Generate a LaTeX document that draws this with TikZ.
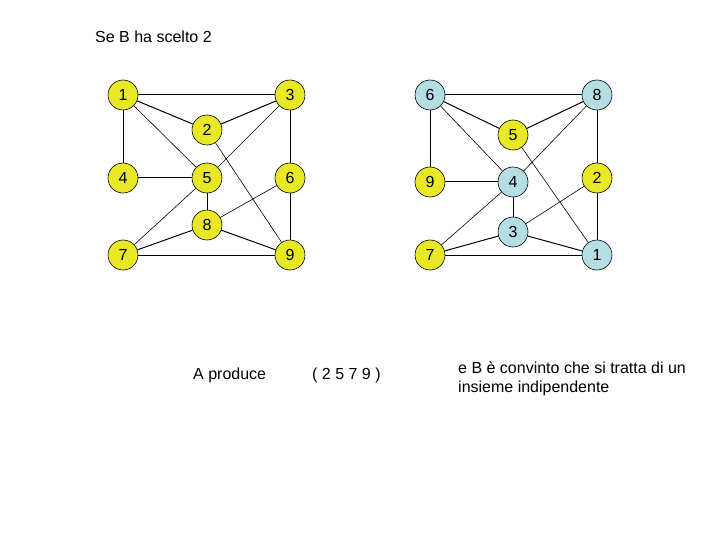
\documentclass[tikz,border=0pt]{standalone}
\usepackage{fontspec}
\setmainfont{Liberation Sans}
\usetikzlibrary{positioning}

\begin{document}
\begin{tikzpicture}[
  x=1pt, y=-1pt,
  font=\fontsize{16}{18.5}\selectfont,
  vy/.style={draw, circle, fill={rgb,255:red,232;green,232;blue,38}, minimum size=30pt,
             inner sep=0pt, line width=0.6pt},
  vb/.style={draw, circle, fill={rgb,255:red,180;green,222;blue,228}, minimum size=30pt,
             inner sep=0pt, line width=0.6pt},
  edge/.style={line width=1pt},
  fine/.style={line width=0.6pt},
  note/.style={anchor=base west, inner sep=0pt},
]
\useasboundingbox (0,0) rectangle (720,540);

\node[note] (title) at (95,43) {Se B ha scelto 2};

% left graph
\node[vy] (l1) at (123,95) {1};
\node[vy] (l3) at (290,95) {3};
\node[vy] (l2) at (207,130) {2};
\node[vy] (l4) at (123,178) {4};
\node[vy] (l5) at (207,178) {5};
\node[vy] (l6) at (290,178) {6};
\node[vy] (l8) at (207,225) {8};
\node[vy] (l7) at (123,255) {7};
\node[vy] (l9) at (290,255) {9};

% right graph
\node[vb] (r6) at (430,95) {6};
\node[vb] (r8) at (597,95) {8};
\node[vy] (r5) at (513,135) {5};
\node[vy] (r9) at (430,182) {9};
\node[vb] (r4) at (513,182) {4};
\node[vy] (r2) at (597,178) {2};
\node[vb] (r3) at (513,232) {3};
\node[vy] (r7) at (430,255) {7};
\node[vb] (r1) at (597,255) {1};

\node[note] (prod) at (193,379) {A produce};
\node[note] (set) at (312,379) {( 2 5 7 9 )};
\node[note, align=left] (conv) at (458,392)
    {e B è convinto che si tratta di un \\ insieme indipendente};

\draw[edge] (l1) -- (l3);
\draw[edge] (l1) -- (l4);
\draw[edge] (l1) -- (l2);
\draw[fine] (l1) -- (l5);
\draw[edge] (l3) -- (l2);
\draw[fine] (l3) -- (l5);
\draw[edge] (l3) -- (l6);
\draw[fine] (l2) -- (l9);
\draw[edge] (l4) -- (l5);
\draw[edge] (l5) -- (l8);
\draw[fine] (l5) -- (l7);
\draw[fine] (l6) -- (l8);
\draw[edge] (l6) -- (l9);
\draw[edge] (l8) -- (l7);
\draw[edge] (l8) -- (l9);
\draw[edge] (l7) -- (l9);

\draw[edge] (r6) -- (r8);
\draw[edge] (r6) -- (r5);
\draw[fine] (r6) -- (r4);
\draw[edge] (r6) -- (r9);
\draw[edge] (r8) -- (r5);
\draw[fine] (r8) -- (r4);
\draw[edge] (r8) -- (r2);
\draw[fine] (r5) -- (r1);
\draw[edge] (r9) -- (r4);
\draw[edge] (r4) -- (r3);
\draw[fine] (r4) -- (r7);
\draw[fine] (r2) -- (r3);
\draw[edge] (r2) -- (r1);
\draw[edge] (r3) -- (r7);
\draw[edge] (r3) -- (r1);
\draw[edge] (r7) -- (r1);

\end{tikzpicture}
\end{document}
